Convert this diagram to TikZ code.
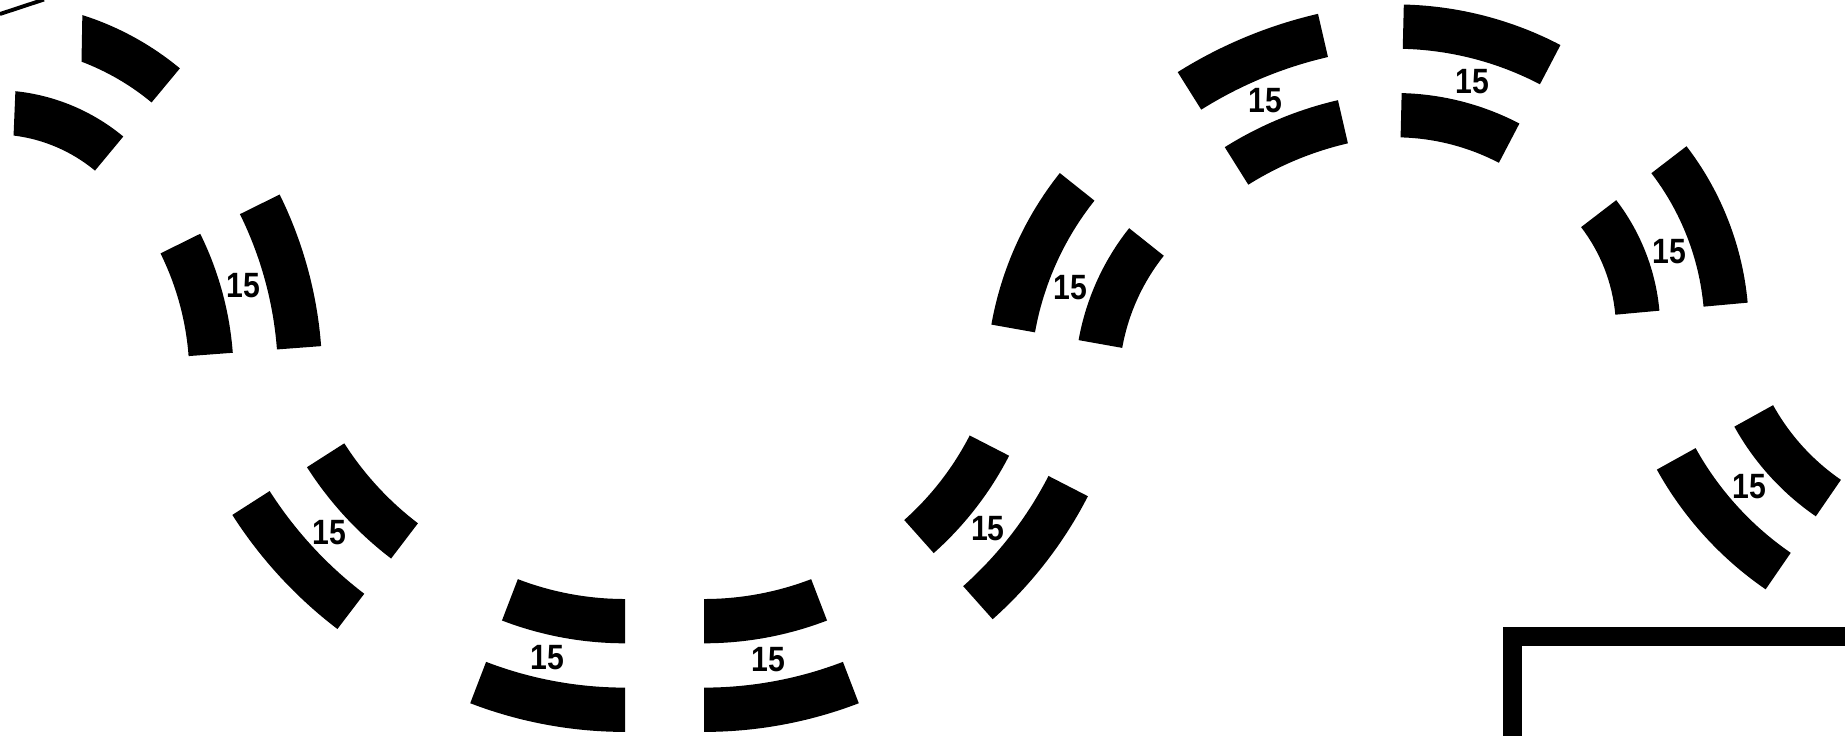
\documentclass[tikz,border=0pt]{standalone}
\usepackage{fontspec}
\setmainfont{Liberation Sans}
\usepackage{tikz}
\usetikzlibrary{calc}

\begin{document}
\begin{tikzpicture}[x=0.02cm, y=0.02cm,
    voie/.style={fill=black},
    etiq/.style={inner sep=0pt, font=\fontsize{20}{20}\selectfont\bfseries}]
    \useasboundingbox (0,0) rectangle (1845,-735);
    \clip (0,0) rectangle (1845,-735);

    % Bord en haut a gauche
    \coordinate (bord1) at (0,-14);
    \coordinate (bord2) at (44,0.5);
    \draw[line width=2.2pt] (bord1) -- (bord2);

    % Virage serre, coupe a gauche
    \coordinate (c-un) at (-5.3,-291.4);
    \fill[voie] (c-un) ++(50.3:289.9) arc[start angle=50.3, end angle=72.4, radius=289.9]
        -- ($(c-un)+(69.3:245.6)$) arc[start angle=69.3, end angle=50.3, radius=245.6] -- cycle;
    \fill[voie] (c-un) ++(50.3:201.3) arc[start angle=50.3, end angle=84.1, radius=201.3]
        -- ($(c-un)+(83.1:157)$) arc[start angle=83.1, end angle=50.3, radius=157] -- cycle;

    % Virages a deux voies
    \foreach \nom/\cx/\cy/\r/\a/\b/\l in {
        deux/-89.6/-377/279/4.3/26.3/15.3,
        trois/606.7/-275.5/311.5/212.6/232.7/222.8,
        quatre/625/-300/299/249/270/257.7,
        cinq/704/-300/299/270/291/280.1,
        six/710/-302/292/311.7/332.8/320.8,
        sept/1325/-384/206/141.5/169.9/159.2,
        huit/1421/-460/325/103/122.1/113.4,
        neuf/1395.1/-361.3/224/62.4/88.6/74.6,
        dix/1447/-330/169/5.2/37.5/19.5,
        onze/1965.5/-298.5/220/209/235.5/221}{
        \coordinate (c-\nom) at (\cx,\cy);
        \fill[voie] (c-\nom) ++(\a:\r) arc[start angle=\a, end angle=\b, radius=\r]
            -- ++(\b:44.3) arc[start angle=\b, end angle=\a, radius={\r+44.3}] -- cycle;
        \fill[voie] (c-\nom) ++(\a:{\r+88.6}) arc[start angle=\a, end angle=\b, radius={\r+88.6}]
            -- ++(\b:44.3) arc[start angle=\b, end angle=\a, radius={\r+132.9}] -- cycle;
        \path (c-\nom) ++(\l:{\r+66.5}) node[etiq] (lab-\nom) {\scalebox{0.86}[1]{15}};
    }

    % Cadre en bas a droite
    \coordinate (cadre1) at (1512.8,-636.2);
    \coordinate (cadre2) at (1950,-900);
    \draw[line width=10.8pt] (cadre1) rectangle (cadre2);
\end{tikzpicture}
\end{document}
